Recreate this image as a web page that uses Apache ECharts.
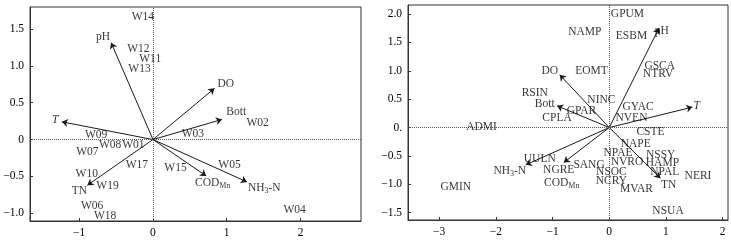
<!DOCTYPE html>
<html>
<head>
<meta charset="utf-8">
<script src="https://cdn.jsdelivr.net/npm/echarts@6/dist/echarts.min.js"></script>
<style>
  html, body { margin: 0; padding: 0; background: #fff; }
  #chart { width: 731px; height: 242px; }
</style>
</head>
<body>
<div id="chart"></div>
<script>
// ---- left biplot: sampling sites + environment vectors
var siteNames = ['W01','W02','W03','W04','W05','W06','W07','W08','W09','W10','W11','W12','W13','W14','W15','W17','W18','W19'];
var siteX = [-0.265, 1.418, 0.541, 1.92, 1.038, -0.825, -0.889, -0.58, -0.771, -0.897, -0.038, -0.197, -0.183, -0.137, 0.305, -0.218, -0.649, -0.617];
var siteY = [-0.067, 0.219, 0.069, -0.951, -0.339, -0.906, -0.167, -0.067, 0.06, -0.461, 1.09, 1.226, 0.954, 1.67, -0.38, -0.339, -1.033, -0.63];

var envLeftNames = ['pH','DO','Bott','T','TN','COD_Mn','NH3-N'];
var envLeftX = [-0.567, 0.834, 0.935, -1.236, -0.889, 0.722, 1.274];
var envLeftY = [1.316, 0.695, 0.273, 0.241, -0.62, -0.494, -0.575];
var envLeftLabelX = [-0.676, 0.986, 1.129, -1.327, -0.997, 0.81, 1.509];
var envLeftLabelY = [1.397, 0.754, 0.373, 0.264, -0.702, -0.59, -0.652];

// ---- right biplot: species + environment vectors
var speciesNames = ['GPUM','NAMP','ESBM','GSCA','NTRV','EOMT','NINC','GYAC','NVEN','RSIN','GPAR','CPLA','ADMI','UULN','NGRE','GMIN','CSTE','NAPE','NPAE','NSSY','NVRO','HAMP','SANG','NSOC','NPAL','NERI','NCRY','MVAR','NSUA'];
var speciesX = [0.321, -0.432, 0.392, 0.891, 0.861, -0.314, -0.138, 0.508, 0.392, -1.314, -0.49, -0.921, -2.254, -1.226, -0.891, -2.707, 0.727, 0.467, 0.155, 0.908, 0.314, 0.938, -0.356, 0.039, 0.979, 1.566, 0.039, 0.48, 1.037];
var speciesY = [2.005, 1.683, 1.605, 1.088, 0.947, 1.0, 0.489, 0.37, 0.176, 0.607, 0.295, 0.166, 0.007, -0.552, -0.75, -1.051, -0.081, -0.287, -0.452, -0.483, -0.61, -0.628, -0.658, -0.787, -0.787, -0.847, -0.94, -1.081, -1.464];

var envRightNames = ['pH','DO','Bott','T','NH3-N','COD_Mn','TN'];
var envRightX = [0.878, -0.873, -0.921, 1.467, -1.473, -0.802, 0.903];
var envRightY = [1.753, 0.929, 0.383, 0.36, -0.658, -0.617, -0.893];
var envRightLabelX = [0.926, -1.05, -1.138, 1.543, -1.755, -0.838, 1.049];
var envRightLabelY = [1.705, 1.0, 0.418, 0.383, -0.764, -0.975, -1.011];

// ---- tick labels
var leftXTicks = [-1, 0, 1, 2];
var leftXLabels = ['−1', '0', '1', '2'];
var leftYTicks = [-1, -0.5, 0, 0.5, 1, 1.5];
var leftYLabels = ['−1.0', '−0.5', '0', '0.5', '1.0', '1.5'];
var rightXTicks = [-3, -2, -1, 0, 1, 2];
var rightXLabels = ['−3', '−2', '−1', '0', '1', '2'];
var rightYTicks = [-1.5, -1, -0.5, 0, 0.5, 1, 1.5, 2];
var rightYLabels = ['−1.5', '−1.0', '−0.5', '0.', '0.5', '1.0', '1.5', '2.0'];

var FONT = 'Liberation Serif';
var INK = '#1a1a1a';

var rich = {
  n: { fontFamily: FONT, fontSize: 11.5, color: '#000' },
  s: { fontFamily: FONT, fontSize: 8, color: '#000', padding: [6, 0, 0, 0] },
  i: { fontFamily: FONT, fontSize: 11.5, color: '#000', fontStyle: 'italic' }
};

function fmtName(name) {
  if (name === 'COD_Mn') return '{n|COD}{s|Mn}';
  if (name === 'NH3-N') return '{n|NH}{s|3}{n|-N}';
  if (name === 'T') return '{i|T}';
  return '{n|' + name + '}';
}

function axis(gridIndex, min, max, ticks, labels) {
  return {
    type: 'value', gridIndex: gridIndex, min: min, max: max,
    axisLine: { show: true, onZero: false, lineStyle: { color: '#333', width: 1 } },
    axisTick: { show: true, inside: true, length: 3, customValues: ticks, lineStyle: { color: '#333' } },
    axisLabel: {
      customValues: ticks, margin: 6, color: '#000', fontFamily: FONT, fontSize: 11.5,
      formatter: function (v) {
        for (var k = 0; k < ticks.length; k++) if (Math.abs(ticks[k] - v) < 1e-9) return labels[k];
        return '';
      }
    },
    splitLine: { show: false }
  };
}

function zip(xs, ys, names) {
  return xs.map(function (x, k) { return { name: names[k], value: [x, ys[k]] }; });
}

function textSeries(idx, xs, ys, names) {
  return {
    type: 'scatter', xAxisIndex: idx, yAxisIndex: idx, silent: true,
    symbolSize: 1, itemStyle: { color: 'transparent' },
    data: zip(xs, ys, names),
    label: {
      show: true, position: 'inside', rich: rich,
      formatter: function (p) { return fmtName(p.name); }
    },
    z: 5
  };
}

function arrowSeries(idx, xs, ys) {
  return {
    type: 'lines', coordinateSystem: 'cartesian2d', xAxisIndex: idx, yAxisIndex: idx, silent: true,
    symbol: ['none', 'arrow'], symbolSize: [4, 6],
    lineStyle: { color: INK, width: 1, opacity: 1 },
    data: xs.map(function (x, k) { return { coords: [[0, 0], [x, ys[k]]] }; }),
    z: 4
  };
}

function crossSeries(idx) {
  return {
    type: 'scatter', xAxisIndex: idx, yAxisIndex: idx, data: [], silent: true,
    markLine: {
      silent: true, symbol: 'none', label: { show: false },
      lineStyle: { color: '#555', type: 'dotted', width: 1 },
      data: [{ xAxis: 0 }, { yAxis: 0 }]
    },
    z: 2
  };
}

var chart = echarts.init(document.getElementById('chart'), null, { renderer: 'canvas' });
chart.setOption({
  backgroundColor: '#fff',
  animation: false,
  grid: [
    { left: 30, right: 370, top: 7, bottom: 21, show: true, borderColor: '#333', borderWidth: 1, backgroundColor: 'transparent' },
    { left: 408, right: 3, top: 5, bottom: 22, show: true, borderColor: '#333', borderWidth: 1, backgroundColor: 'transparent' }
  ],
  xAxis: [
    axis(0, -1.667, 2.82, leftXTicks, leftXLabels),
    axis(1, -3.55, 2.095, rightXTicks, rightXLabels)
  ],
  yAxis: [
    axis(0, -1.106, 1.80, leftYTicks, leftYLabels),
    axis(1, -1.63, 2.16, rightYTicks, rightYLabels)
  ],
  series: [
    crossSeries(0),
    arrowSeries(0, envLeftX, envLeftY),
    textSeries(0, siteX, siteY, siteNames),
    textSeries(0, envLeftLabelX, envLeftLabelY, envLeftNames),
    crossSeries(1),
    arrowSeries(1, envRightX, envRightY),
    textSeries(1, speciesX, speciesY, speciesNames),
    textSeries(1, envRightLabelX, envRightLabelY, envRightNames)
  ]
});
</script>
</body>
</html>
